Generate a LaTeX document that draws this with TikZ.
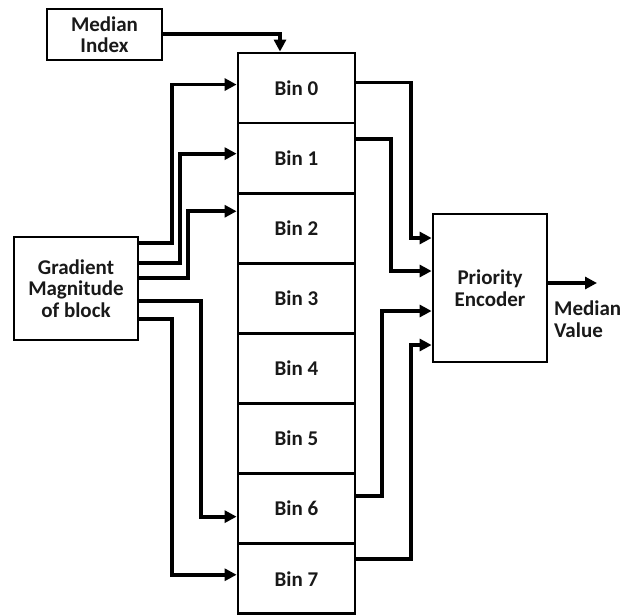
\documentclass[tikz,border=0pt]{standalone}
\usepackage{fontspec}
\setmainfont{Carlito}
\usetikzlibrary{arrows.meta}
\definecolor{ink}{RGB}{25,25,25}
\tikzset{
  blk/.style={draw=black, line width=2.8pt, rectangle, inner sep=0pt,
    align=center, text=ink, font=\bfseries\fontsize{21}{21.5}\selectfont},
  binbox/.style={blk, minimum width=117pt, minimum height=70.1pt},
  arr/.style={line width=3.8pt, -{Triangle[length=12pt,width=12pt]}}
}
\begin{document}
\begin{tikzpicture}[x=1pt, y=-1pt]
\useasboundingbox (0,0) rectangle (634,615);

% input blocks
\node[blk, minimum width=115pt, minimum height=51pt] (mi) at (104.5,34.5) {Median\\Index};
\node[blk, minimum width=124pt, minimum height=103pt] (grad) at (76,288.5) {Gradient\\Magnitude\\of block};

% histogram bins
\foreach \i in {0,...,7} {
  \node[binbox] (bin\i) at (296.5, {88.05+70.1*\i}) {Bin \i};
}

% priority encoder and output
\node[blk, minimum width=114pt, minimum height=148pt] (pe) at (490,288) {Priority\\Encoder};
\coordinate (out) at (597,283);
\node[anchor=west, align=left, inner sep=0pt, text=ink, font=\bfseries\fontsize{21}{21.5}\selectfont] (mv) at (554,319) {Median\\Value};

% median index into the bin array
\draw[arr] (mi.east |- 0,34) -| (bin0.north -| 280,0);

% gradient magnitude to the bins
\draw[arr] ([yshift=45.5]grad.east) -| ([xshift=-65,yshift=3.5]bin0.west) -- ([yshift=3.5]bin0.west);
\draw[arr] ([yshift=25.5]grad.east) -| ([xshift=-57,yshift=4.5]bin1.west) -- ([yshift=4.5]bin1.west);
\draw[arr] ([yshift=10.5]grad.east) -| ([xshift=-49,yshift=17]bin2.west) -- ([yshift=17]bin2.west);
\draw[arr] ([yshift=-12.5]grad.east) -| ([xshift=-36,yshift=-8]bin6.west) -- ([yshift=-8]bin6.west);
\draw[arr] ([yshift=-30.5]grad.east) -| ([xshift=-65,yshift=4]bin7.west) -- ([yshift=4]bin7.west);

% bins to the priority encoder
\draw[arr] ([yshift=5.5]bin0.east) -| ([xshift=-21,yshift=50]pe.west) -- ([yshift=50]pe.west);
\draw[arr] ([yshift=19.5]bin1.east) -| ([xshift=-41,yshift=17]pe.west) -- ([yshift=17]pe.west);
\draw[arr] ([yshift=13]bin6.east) -| ([xshift=-50,yshift=-23]pe.west) -- ([yshift=-23]pe.west);
\draw[arr] ([yshift=20]bin7.east) -| ([xshift=-21,yshift=-57]pe.west) -- ([yshift=-57]pe.west);

% encoder output
\draw[arr] ([yshift=5]pe.east) -- (out);
\end{tikzpicture}
\end{document}
